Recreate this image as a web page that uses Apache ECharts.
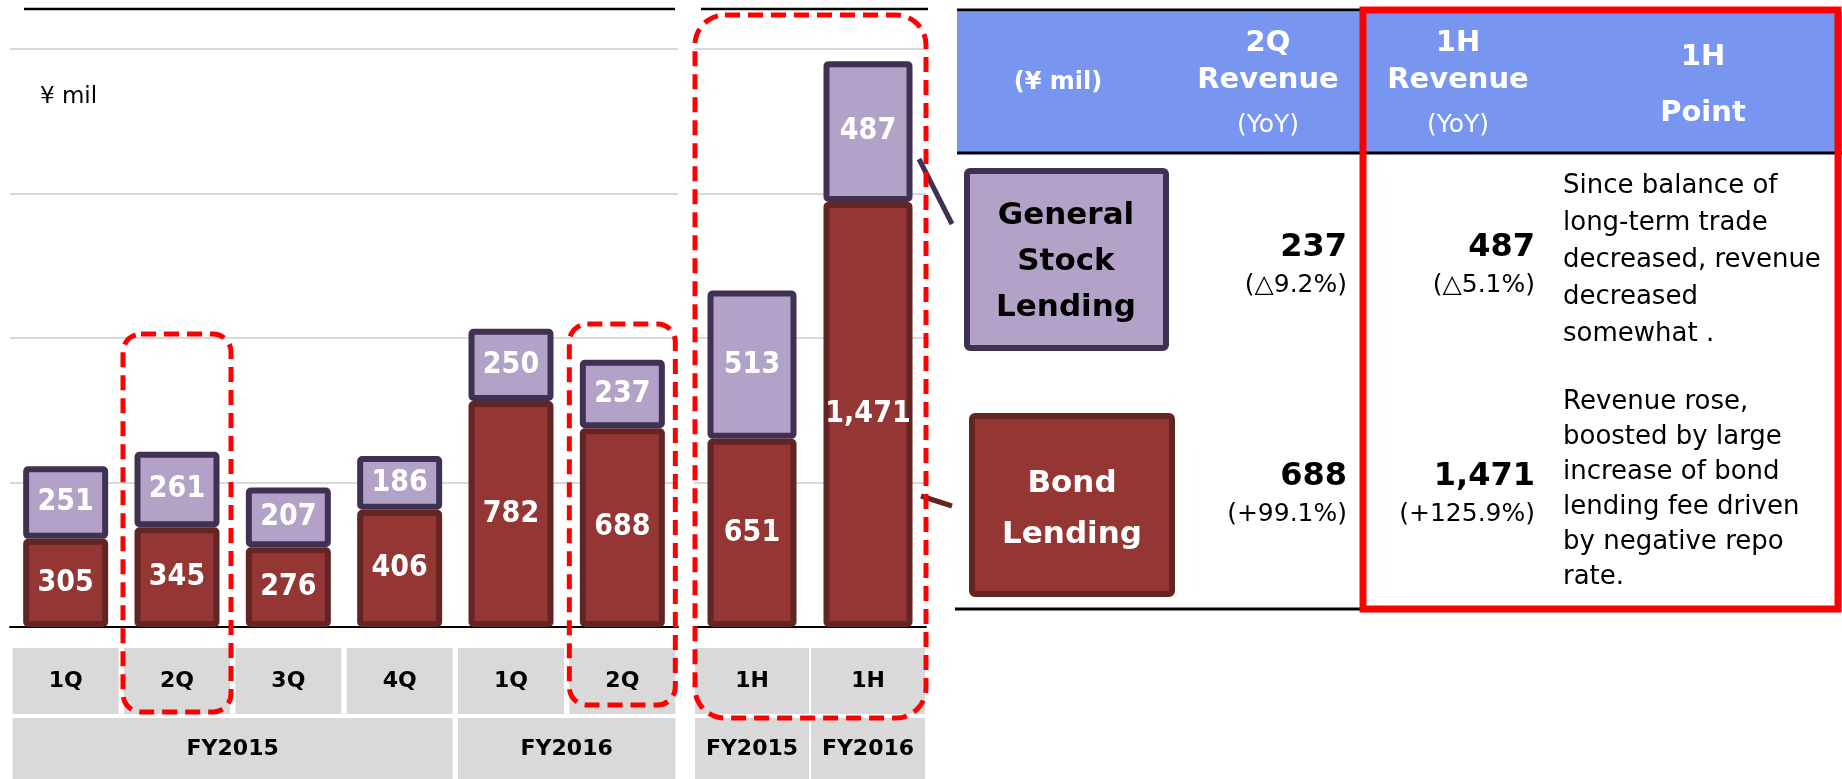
<!DOCTYPE html>
<html>
<head>
<meta charset="utf-8">
<script src="https://cdn.jsdelivr.net/npm/echarts@6/dist/echarts.min.js"></script>
<style>
  html, body { margin: 0; padding: 0; background: #fff; }
  #main { width: 1842px; height: 779px; }
</style>
</head>
<body>
<div id="main"></div>
<script>
// quarterly chart
var quarters = ['1Q', '2Q', '3Q', '4Q', '1Q', '2Q'];
var quarterYears = ['FY2015', 'FY2015', 'FY2015', 'FY2015', 'FY2016', 'FY2016'];
var bondQ = [305, 345, 276, 406, 782, 688];
var stockQ = [251, 261, 207, 186, 250, 237];
// half-year chart
var halves = ['1H', '1H'];
var halfYears = ['FY2015', 'FY2016'];
var bondH = [651, 1471];
var stockH = [513, 487];
// table
var rowNames = ['General\nStock\nLending', 'Bond\nLending'];
var rev2Q = [237, 688];
var yoy2Q = ['△9.2%', '+99.1%'];
var rev1H = [487, 1471];
var yoy1H = ['△5.1%', '+125.9%'];
var points = [
  'Since balance of\nlong-term trade\ndecreased, revenue\ndecreased\nsomewhat .',
  'Revenue rose,\nboosted by large\nincrease of bond\nlending fee driven\nby negative repo\nrate.'
];

var font = '"DejaVu Sans", Verdana, sans-serif';
var narrow = '"DejaVu Sans Condensed", "DejaVu Sans", sans-serif';
var myChart = echarts.init(document.getElementById('main'));

var fmt = function (p) { return Number(p.value).toLocaleString('en-US'); };
var barLabel = { show: true, position: 'inside', color: '#fff', fontWeight: 'bold', fontSize: 30, fontFamily: narrow, formatter: fmt };
var bondStyle = { color: '#943634', borderColor: '#632523', borderWidth: 6, borderRadius: 2 };
var stockStyle = { color: '#B3A2C7', borderColor: '#403152', borderWidth: 6, borderRadius: 2 };

function cellLabel(w) {
  return {
    interval: 0, margin: 21, color: '#000', fontWeight: 'bold', fontSize: 22, fontFamily: font,
    backgroundColor: '#D9D9D9', width: w, height: 66, lineHeight: 66, align: 'center', verticalAlign: 'top'
  };
}
function valueAxis(i) {
  return {
    type: 'value', gridIndex: i, min: 0, max: 2000, interval: 500,
    axisLabel: { show: false }, axisLine: { show: false }, axisTick: { show: false },
    splitLine: { lineStyle: { color: '#D9D9D9', width: 2 } }
  };
}

var option = {
  animation: false,
  backgroundColor: '#fff',
  grid: [
    { left: 10, top: 49, width: 668, height: 578, outerBoundsMode: 'none' },
    { left: 694, top: 49, width: 232, height: 578, outerBoundsMode: 'none' }
  ],
  xAxis: [
    { type: 'category', gridIndex: 0, data: quarters, axisLine: { lineStyle: { color: '#000', width: 2 } }, axisTick: { show: false }, axisLabel: cellLabel(106) },
    { type: 'category', gridIndex: 1, data: halves, axisLine: { lineStyle: { color: '#000', width: 2 } }, axisTick: { show: false }, axisLabel: cellLabel(114) }
  ],
  yAxis: [valueAxis(0), valueAxis(1)],
  series: [
    { name: 'Bond Lending', type: 'bar', stack: 'q', xAxisIndex: 0, yAxisIndex: 0, barWidth: 85, data: bondQ, itemStyle: bondStyle, label: barLabel },
    { name: 'General Stock Lending', type: 'bar', stack: 'q', xAxisIndex: 0, yAxisIndex: 0, barWidth: 85, data: stockQ, itemStyle: stockStyle, label: barLabel },
    { name: 'Bond Lending', type: 'bar', stack: 'h', xAxisIndex: 1, yAxisIndex: 1, barWidth: 89, data: bondH, itemStyle: bondStyle, label: barLabel },
    { name: 'General Stock Lending', type: 'bar', stack: 'h', xAxisIndex: 1, yAxisIndex: 1, barWidth: 89, data: stockH, itemStyle: stockStyle, label: barLabel }
  ]
};
myChart.setOption(option);

function text(x, y, s, size, opts) {
  opts = opts || {};
  var al = opts.align || 'center';
  var va = opts.va || 'middle';
  return {
    type: 'text', z: 10,
    style: {
      x: x, y: y, text: s, fill: opts.color || '#000',
      font: (opts.bold ? 'bold ' : '') + size + 'px ' + font,
      lineHeight: opts.lh || size * 1.2,
      align: al, verticalAlign: va, textAlign: al, textVerticalAlign: va
    }
  };
}
function line(x1, y1, x2, y2, color, w, z) {
  return { type: 'line', z: z || 10, shape: { x1: x1, y1: y1, x2: x2, y2: y2 }, style: { stroke: color, lineWidth: w } };
}
function rect(x, y, w, h, style, r, z) {
  return { type: 'rect', z: z || 5, shape: { x: x, y: y, width: w, height: h, r: r || 0 }, style: style };
}
function dashBox(x1, y1, x2, y2, r) {
  return rect(x1, y1, x2 - x1, y2 - y1, { fill: 'none', stroke: '#FF0000', lineWidth: 5, lineDash: [15, 8] }, r, 30);
}

var g = [];

// fiscal year row under each chart
function yearRow(axisIndex, years, cellW) {
  var start = 0;
  for (var i = 1; i <= years.length; i++) {
    if (i === years.length || years[i] !== years[start]) {
      var x1 = myChart.convertToPixel({ xAxisIndex: axisIndex }, start) - cellW / 2;
      var x2 = myChart.convertToPixel({ xAxisIndex: axisIndex }, i - 1) + cellW / 2;
      g.push(rect(x1, 718, x2 - x1, 62, { fill: '#D9D9D9' }));
      g.push(text((x1 + x2) / 2, 749, years[start], 22, { bold: true }));
      start = i;
    }
  }
}
yearRow(0, quarterYears, 106);
yearRow(1, halfYears, 114);

// chart decorations
g.push(line(24, 9, 675, 9, '#000', 2.5));
g.push(line(701, 9, 928, 9, '#000', 2.5));
g.push(text(40, 97, '¥ mil', 23, { align: 'left' }));

var c1 = myChart.convertToPixel({ xAxisIndex: 0 }, 1);
var c5 = myChart.convertToPixel({ xAxisIndex: 0 }, 5);
g.push(dashBox(c1 - 54, 334, c1 + 54, 712, 18));
g.push(dashBox(c5 - 53, 324, c5 + 53, 705, 18));
g.push(dashBox(695, 15, 926, 718, 30));

// connectors
g.push(line(919, 159, 952, 224, '#403152', 5));
g.push(line(921, 496, 952, 506, '#632523', 5));

// table header
g.push(rect(957, 12, 885, 141, { fill: '#7896EF' }));
g.push(line(957, 10, 1363, 10, '#000', 3));
g.push(line(957, 153, 1842, 153, '#000', 3));
g.push(line(955, 609, 1363, 609, '#000', 3));
g.push(text(1058, 83, '(¥ mil)', 24, { bold: true, color: '#fff' }));
g.push(text(1268, 43, '2Q', 29, { bold: true, color: '#fff' }));
g.push(text(1268, 80, 'Revenue', 29, { bold: true, color: '#fff' }));
g.push(text(1268, 125, '(YoY)', 25, { color: '#fff' }));
g.push(text(1458, 43, '1H', 29, { bold: true, color: '#fff' }));
g.push(text(1458, 80, 'Revenue', 29, { bold: true, color: '#fff' }));
g.push(text(1458, 125, '(YoY)', 25, { color: '#fff' }));
g.push(text(1703, 57, '1H', 29, { bold: true, color: '#fff' }));
g.push(text(1703, 113, 'Point', 29, { bold: true, color: '#fff' }));

// table rows
g.push(rect(967, 171, 199, 177, { fill: '#B3A2C7', stroke: '#403152', lineWidth: 6 }, 3));
g.push(text(1066, 262, rowNames[0], 31, { bold: true, lh: 46 }));
g.push(rect(972, 416, 200, 178, { fill: '#943634', stroke: '#632523', lineWidth: 6 }, 3));
g.push(text(1072, 509, rowNames[1], 31, { bold: true, lh: 51, color: '#fff' }));

var rowY = [248, 477];
for (var r = 0; r < 2; r++) {
  g.push(text(1347, rowY[r], rev2Q[r].toLocaleString('en-US'), 32, { bold: true, align: 'right' }));
  g.push(text(1347, rowY[r] + 37, '(' + yoy2Q[r] + ')', 25, { align: 'right' }));
  g.push(text(1535, rowY[r], rev1H[r].toLocaleString('en-US'), 32, { bold: true, align: 'right' }));
  g.push(text(1535, rowY[r] + 37, '(' + yoy1H[r] + ')', 25, { align: 'right' }));
}
g.push(text(1563, 168, points[0], 26, { align: 'left', va: 'top', lh: 37 }));
g.push(text(1563, 385, points[1], 26, { align: 'left', va: 'top', lh: 35 }));

// red highlight frame
g.push(rect(1363, 10, 475, 599, { fill: 'none', stroke: '#FF0000', lineWidth: 7 }, 0, 30));

myChart.setOption({ graphic: g });
</script>
</body>
</html>
